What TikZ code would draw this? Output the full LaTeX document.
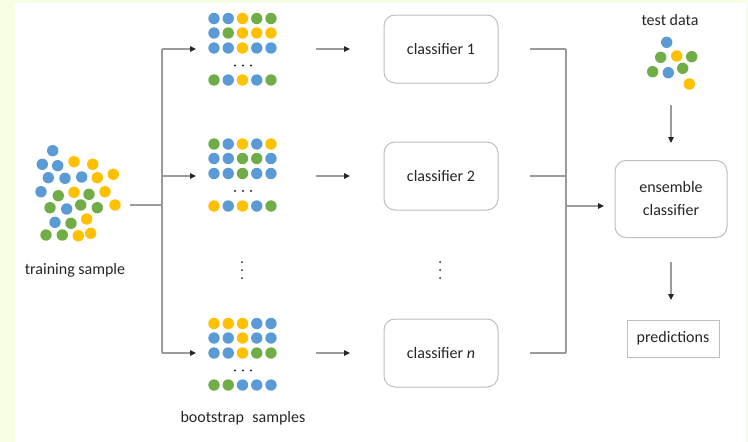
\documentclass[tikz,border=0pt]{standalone}
\usepackage{fontspec}
\setmainfont{Carlito}
\usetikzlibrary{arrows.meta}

\definecolor{cb}{RGB}{91,155,213}
\definecolor{cy}{RGB}{255,192,0}
\definecolor{cg}{RGB}{112,173,71}
\definecolor{edge}{RGB}{155,155,155}
\definecolor{boxline}{RGB}{190,190,190}
\definecolor{txt}{RGB}{38,38,38}
\definecolor{margin}{RGB}{246,255,228}

% one dot of a sample
\newcommand\sdot[3]{\fill[#3] (#1,#2) circle (5.7);}
% one row of a bootstrap sample: y position, five colours
\newcommand\srow[2]{%
  \foreach \c [count=\i from 0] in {#2} {\fill[\c] (214+14.25*\i,#1) circle (5.7);}}
% the small ellipsis inside a bootstrap sample
\newcommand\hdots[1]{%
  \foreach \xx in {235,243,251} {\fill[txt] (\xx,#1) circle (1.1);}}
% vertical ellipsis between rows
\newcommand\vdotsat[2]{%
  \foreach \yy in {-8,0,8} {\fill[txt] (#1,#2+\yy) circle (1.0);}}

\begin{document}
\begin{tikzpicture}[x=1pt,y=-1pt,
  font=\fontsize{16}{19}\selectfont, text=txt,
  link/.style={draw=edge, line width=1.1pt},
  arrowlink/.style={link, -{Triangle[length=6pt,width=5.5pt,color=black!85]}},
  roundbox/.style={draw=boxline, line width=1pt, rounded corners=11pt, fill=white, align=center},
  squarebox/.style={draw=boxline, line width=1pt, fill=white, align=center},
  label/.style={inner sep=0pt, align=center}]

% page and margins
\fill[white] (0,0) rectangle (748,442);
\fill[margin] (0,0) rectangle (15,442);
\fill[margin] (0,0) rectangle (748,3);
\fill[margin] (746,0) rectangle (748,442);
\useasboundingbox (0,0) rectangle (748,442);

% training sample
\sdot{52.7}{150.7}{cb}
\sdot{42.3}{164.3}{cb}\sdot{57.7}{165.7}{cb}\sdot{74}{161.7}{cy}\sdot{92.7}{164.3}{cy}
\sdot{48.3}{177.7}{cb}\sdot{65}{178.3}{cb}\sdot{81.7}{177}{cb}\sdot{97.3}{177.7}{cy}\sdot{113.3}{174.3}{cy}
\sdot{41}{191.7}{cb}\sdot{58.3}{195.7}{cg}\sdot{74}{192.3}{cy}\sdot{89}{194.3}{cg}\sdot{105}{191.7}{cy}
\sdot{50}{207.7}{cg}\sdot{66.7}{209}{cb}\sdot{80.7}{205}{cg}\sdot{97.3}{207.7}{cg}\sdot{115}{205}{cy}
\sdot{55}{222.3}{cb}\sdot{71}{223.3}{cg}\sdot{86.7}{219}{cy}
\sdot{46}{235}{cg}\sdot{62.3}{235}{cg}\sdot{78.3}{235.7}{cy}\sdot{90.7}{233.3}{cy}
\node[label] (train) at (75,270) {training sample};

% bootstrap samples
\srow{18.5}{cb,cb,cy,cg,cg}
\srow{33}{cb,cg,cy,cy,cy}
\srow{48}{cb,cb,cy,cb,cb}
\hdots{65.5}
\srow{80}{cg,cb,cy,cb,cg}

\srow{144}{cg,cb,cy,cb,cy}
\srow{158.5}{cb,cb,cg,cg,cb}
\srow{173.5}{cb,cb,cg,cb,cb}
\hdots{191}
\srow{206}{cy,cb,cy,cb,cg}

\srow{323.5}{cy,cy,cy,cb,cb}
\srow{338}{cb,cb,cy,cb,cb}
\srow{353}{cb,cb,cy,cg,cg}
\hdots{370.5}
\srow{385}{cg,cg,cb,cb,cb}

\vdotsat{242}{270}
\node[label] (boot) at (243,418) {bootstrap\hspace{0.3em} samples};

% classifiers
\node[roundbox, minimum width=114pt, minimum height=68pt] (c1) at (441,49) {classifier 1};
\node[roundbox, minimum width=114pt, minimum height=68pt] (c2) at (441,176) {classifier 2};
\node[roundbox, minimum width=114pt, minimum height=68pt] (c3) at (441,353) {classifier \textit{n}};
\vdotsat{440}{270}

% test data
\node[label] (test) at (670,20) {test data};
\sdot{666.7}{42.3}{cb}
\sdot{660.7}{57.3}{cg}\sdot{676.7}{56}{cy}\sdot{691.7}{56.7}{cg}
\sdot{652.7}{71.7}{cg}\sdot{668.3}{72.7}{cb}\sdot{682.7}{68.3}{cg}
\sdot{689.3}{84}{cy}

% ensemble and predictions
\node[roundbox, minimum width=112pt, minimum height=77pt] (ens) at (671,199) {ensemble\\[4pt]classifier};
\node[squarebox, minimum width=92pt, minimum height=37pt] (pred) at (673,338.5) {predictions};

% connector end points
\coordinate (trainout) at (130,205);
\coordinate (split) at (162,205);
\coordinate (s1) at (162,49);
\coordinate (s2) at (162,176);
\coordinate (s3) at (162,353);
\coordinate (g1in) at (196,49);
\coordinate (g2in) at (196,176);
\coordinate (g3in) at (196,353);
\coordinate (g1out) at (316,49);
\coordinate (g2out) at (316,176);
\coordinate (g3out) at (316,353);
\coordinate (k1) at (350,49);
\coordinate (k2) at (350,176);
\coordinate (k3) at (350,353);
\coordinate (o1) at (530,49);
\coordinate (o2) at (530,176);
\coordinate (o3) at (530,353);
\coordinate (m1) at (566,49);
\coordinate (m2) at (566,176);
\coordinate (m3) at (566,353);
\coordinate (merge) at (566,206);
\coordinate (ensin) at (604,206);
\coordinate (testout) at (671,105);
\coordinate (testin) at (671,143);
\coordinate (ensout) at (671,262);
\coordinate (predin) at (671,300);

% training sample to bootstrap samples
\draw[link] (trainout) -- (split);
\draw[link] (s1) -- (s3);
\draw[arrowlink] (s1) -- (g1in);
\draw[arrowlink] (s2) -- (g2in);
\draw[arrowlink] (s3) -- (g3in);

% bootstrap samples to classifiers
\draw[arrowlink] (g1out) -- (k1);
\draw[arrowlink] (g2out) -- (k2);
\draw[arrowlink] (g3out) -- (k3);

% classifiers to ensemble
\draw[link] (o1) -- (m1);
\draw[link] (o2) -- (m2);
\draw[link] (o3) -- (m3);
\draw[link] (m1) -- (m3);
\draw[arrowlink] (merge) -- (ensin);

% test data and predictions
\draw[arrowlink] (testout) -- (testin);
\draw[arrowlink] (ensout) -- (predin);
\end{tikzpicture}
\end{document}
